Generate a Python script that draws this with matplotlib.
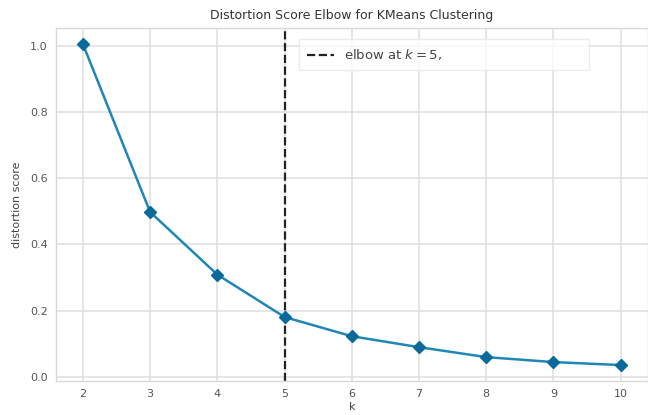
import matplotlib
matplotlib.use("Agg")
import matplotlib.pyplot as plt

k_values = [2, 3, 4, 5, 6, 7, 8, 9, 10]
scores = [1.005, 0.498, 0.309, 0.181, 0.123, 0.090, 0.060, 0.045, 0.036]
elbow_k = 5
title = "Distortion Score Elbow for KMeans Clustering"

plt.rcParams['font.family'] = ['DejaVu Sans']
fig = plt.figure(figsize=(6.48, 4.15), dpi=100)
ax = fig.add_axes([0.0864, 0.082, 0.913, 0.851])
ax.set_facecolor('white')

ax.plot(k_values, scores, color='#1f86b5', linewidth=1.8, marker='D',
        markersize=6, markerfacecolor='#0a6a9a', markeredgecolor='#0a6a9a', zorder=3)
ax.axvline(elbow_k, color='#222222', linestyle='--', linewidth=1.6,
           label=f"elbow at $k={elbow_k}$,", zorder=2)

ax.set_xlim(1.6, 10.4)
ax.set_ylim(-0.012, 1.054)
ax.set_xticks(k_values)
ax.set_yticks([0.0, 0.2, 0.4, 0.6, 0.8, 1.0])
ax.set_yticklabels(["0.0", "0.2", "0.4", "0.6", "0.8", "1.0"])
ax.grid(True, color='#dedede', linewidth=1.1)
ax.set_axisbelow(True)
for s in ax.spines.values():
    s.set_color('#d8d8d8')
    s.set_linewidth(1.0)
ax.tick_params(axis='both', length=0, labelsize=8, colors='#555555', pad=6)

ax.set_title(title, fontsize=9, color='#333333', pad=6)
ax.set_xlabel("k", fontsize=8, color='#444444', labelpad=2)
ax.set_ylabel("distortion score", fontsize=8, color='#444444', labelpad=6)

leg = ax.legend(loc='upper left', fontsize=9.5, frameon=True, framealpha=0.8,
                edgecolor='#e8e8e8', fancybox=False, borderpad=0.6,
                bbox_to_anchor=(0.40, 0.903, 0.512, 0.083), mode='expand',
                handlelength=2.0)
for t in leg.get_texts():
    t.set_color('#444444')

fig.savefig("out.png", dpi=100, facecolor='white')
